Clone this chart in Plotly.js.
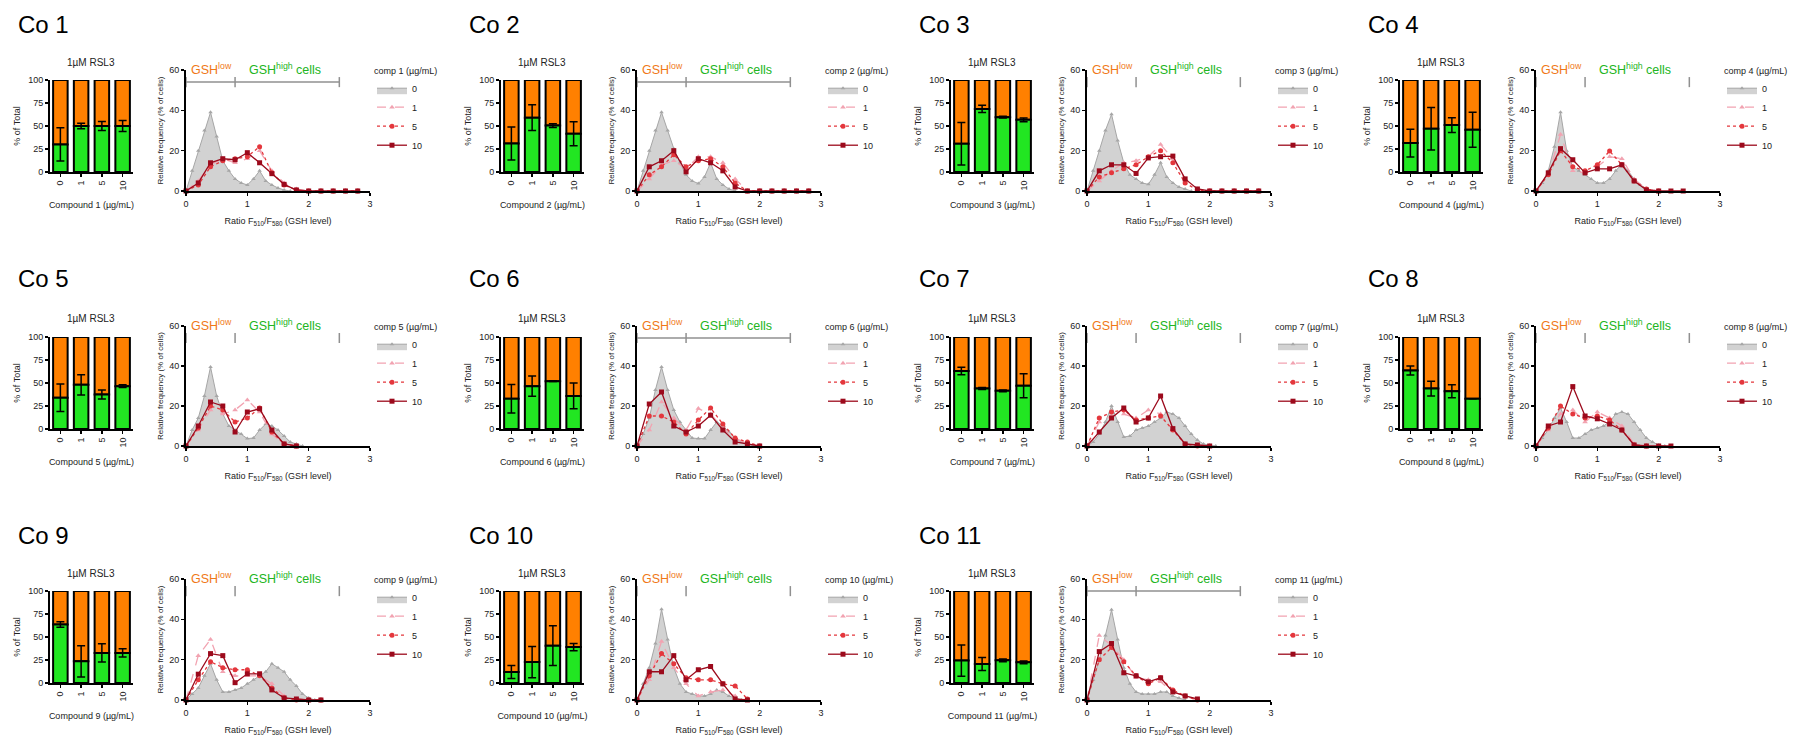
<!DOCTYPE html>
<html><head><meta charset="utf-8">
<script src="https://cdn.plot.ly/plotly-3.0.1.min.js"></script>
<style>html,body{margin:0;padding:0;background:#fff}#chart{width:1797px;height:746px}</style>
</head><body><div id="chart"></div>
<script>
// ---------- DATA ----------
const concLabels = ['0','1','5','10'];
const barTitle = '1µM RSL3';
// % of cells that are GSH-high (green); orange = 100 - green
const greenPct = [
  [30,50,50,50],[31,59,50.5,41.5],[30.7,68.6,59.6,56.7],[31.4,47,51,46],
  [34,48,37.5,46.5],[33,46.5,52,36],[63,44,41.5,47],[63.6,44,41,33],
  [63.6,23.6,32.7,32.7],[12,22.7,40.6,39],[24.4,20.7,24.7,22.5]
];
const greenSd = [
  [18,3,5,6],[18,14,2,13],[23,4,1,2],[15,23,8,19],
  [15,11,5,1.5],[15.5,11,0.5,14],[4,1,1,13],[5,8,7,0],
  [3,17,10,4.5],[7,17,21.5,4],[17,7,1.5,1.5]
];
// ratio bins for control (0 µg/mL) histogram
const ratioFine = [0,0.1,0.2,0.3,0.4,0.5,0.6,0.7,0.8,0.9,1.0,1.1,1.2,1.3,1.4,1.5,1.6,1.7,1.8,1.9,2.0,2.1];
// ratio bins for treated histograms
const ratioCoarse = [0,0.2,0.4,0.6,0.8,1.0,1.2,1.4,1.6,1.8,2.0,2.2,2.4,2.6,2.8];
const freq0 = [
  [0,10,20,30,39,27,15,10,6,4,3,6,10,5,3,1.5,0.5,0],
  [0,10,20,30,39,30,21,14,8,5,3.7,7,14,6,3,1,0],
  [0,10,20,30,38,25,14,8,6,4,3.3,8,14,7,4,2,1,0],
  [0,4,10,22,39,20,12,10,8,6,4,4,6,10,13.5,10,6,3,1,0],
  [0,8,14,25,39.5,25,16,10,8,6,3.7,4,8,11,10,8,5,2,1,0],
  [0,6,14,28,39.5,28,18,12,8,4,3.7,3.7,8,12,10,7,4,2,1,0],
  [0,2,6,12,20,12,4.5,5,8,9,10,12,14,17,16,14,10,6,3,1,0.5,0],
  [0,4,8,14,19,12,4,4,6,8,9,10,12,16,17,16,12,8,4,2,0.5,0],
  [0,3,6,12,18,10,4,4,5,6,8,10,12,14,18,16,14,10,7,3,1,0],
  [0,8,16,28,45,30,16,8,4,3,2,2,3,5,4,2,1,0],
  [0,10,20,32,44.7,30,16,8,4,3,3,3,4,4,2,1,0]
];
const freq1 = [
  [0,5,13,16,14,16,20,10,4,1,0,0,0,0,0],
  [0,6,13,15,11,17,17,14,6,0,0,0,0,0,0],
  [0,5,10,14,15,17,23,16,6,1,0,0,0,0,0],
  [0,8,28,10,9,12,17,16,6,1,0],
  [0,8,18,16,18,23,17,6,1,0],
  [0,8,22,14,8,18.7,16,9,4,1,0],
  [0,12,15,16,14,18,16,8,1,0.5,0],
  [0,8,16,18,12,17,14,10,1,0],
  [0,22,30,14,12,12,12,8,2,0.5,0],
  [0,10,29,16,8,2,4,5,2,0],
  [0,32,27,20,11,10,9,4,2,0]
];
const freq5 = [
  [0,3,12,15,16,17,22,9,3,0.5,0,0,0,0,0],
  [0,8,12,18,12,15,16,12,4,0,0,0,0,0,0],
  [0,7,9,11,13,17,20,14,4,0.5,0,0,0,0,0],
  [0,8,20,12,10,13,19.8,13,5,1,0],
  [0,9,20,18,12,14,19,7,1,0],
  [0,15,15,12,6,13,19,11,4,2,0],
  [0,14,17,18,13,14,15,8,1,0],
  [0,9,20,16,14,15,13,8,0.5,0],
  [0,10,19,16,15,15,12,6,1,0,0,0],
  [0,12,23,18,11,10,10,8,7,0.5],
  [0,20,26,19,12,8,11,5,2,0]
];
const freq10 = [
  [0,4,14,16,15.5,19,14,8.6,3.3,0.5,0,0,0,0,0],
  [0,12,15,20,9.5,16,14,10,2,0,0,0,0,0,0],
  [0,10,13,13,8.7,16.4,17,17.3,6,1,0,0,0,0,0],
  [0,9,21,15.5,9,11,11,13,5,0.5,0,0,0],
  [0,10,22,20,7,17,18.6,8,1,0],
  [0,21,27,10,7,10,15.4,8,2,1,0],
  [0,7,14,19,12,14,25,8.7,1,0.5,0],
  [0,10,12,29.7,15,13.6,11,8,0.5,0,0,0],
  [0,12.8,23,22,8.6,13,13,5,1,0.5,0,0],
  [0,14,14,22,10,15,16.6,8,0.5,0],
  [0,24,28,13.5,12,9,11,4,2,0.5]
];
// gate bracket (ratio limits): low gate 0–0.8, high gate 0.8–2.5
const gateEdges = [0,0.8,2.5];
const gateLevel = 54;
const showGateLine = [true,true,false,false,false,true,false,false,false,false,true];
const gateLowText = 'GSH<sup>low</sup>';
const gateHighText = 'GSH<sup>high</sup> cells';

// ---------- LAYOUT ----------
const W=1797,H=746;
const colX=[0,451,901,1350];
const rowBar=[[80,172],[337,429],[591,683]];
const rowLine=[[70,191],[326,446],[579,700]];
const titleY=[24,278,535];
const px=v=>v/W, py=v=>1-v/H;
const FONT='"Liberation Sans", Arial, sans-serif';
const ORANGE='#ff8000', GREEN='#22e622';
const serStyle = {
  '0':{color:'#a6a6a6',sym:'triangle-up',dash:'solid'},
  '1':{color:'#f2a3b1',sym:'triangle-up',dash:'dash'},
  '5':{color:'#e4373d',sym:'circle',dash:'dot'},
  '10':{color:'#9c0a1c',sym:'square',dash:'solid'}
};

const traces=[], annotations=[], shapes=[];
const layout={width:W,height:H,margin:{l:0,r:0,t:0,b:0},paper_bgcolor:'#fff',plot_bgcolor:'rgba(0,0,0,0)',
  font:{family:FONT,size:9,color:'#222'},barmode:'overlay',bargap:0.3,annotations,shapes,hovermode:false};

function axKey(n){return n===1?'':String(n);}
for(let i=0;i<11;i++){
  const r=Math.floor(i/4), c=i%4, bx=colX[c];
  const nb=2*i+1, nl=2*i+2;
  const xb='x'+axKey(nb), yb='y'+axKey(nb), xl='x'+axKey(nl), yl='y'+axKey(nl);
  const lg='legend'+(i===0?'':(i+1));
  const axCommon={showline:true,linewidth:2,linecolor:'#000',ticks:'outside',ticklen:3,tickwidth:1.5,tickcolor:'#000',showgrid:false,zeroline:false,tickfont:{size:9,color:'#222'},fixedrange:true};
  layout['xaxis'+axKey(nb)]=Object.assign({},axCommon,{domain:[px(bx+50),px(bx+133)],anchor:yb,type:'category',
     categoryorder:'array',categoryarray:concLabels,tickangle:-90,
     title:{text:'Compound '+(i+1)+' (µg/mL)',font:{size:9},standoff:12}});
  layout['yaxis'+axKey(nb)]=Object.assign({},axCommon,{domain:[py(rowBar[r][1]),py(rowBar[r][0])],anchor:xb,range:[0,100],
     tickvals:[0,25,50,75,100],title:{text:'% of Total',font:{size:9},standoff:6}});
  layout['xaxis'+axKey(nl)]=Object.assign({},axCommon,{domain:[px(bx+186),px(bx+370)],anchor:yl,range:[0,3],
     tickvals:[0,1,2,3],title:{text:'Ratio F<sub>510</sub>/F<sub>580</sub> (GSH level)',font:{size:9},standoff:10}});
  layout['yaxis'+axKey(nl)]=Object.assign({},axCommon,{domain:[py(rowLine[r][1]),py(rowLine[r][0])],anchor:xl,range:[0,60],
     tickvals:[0,20,40,60],title:{text:'Relative frequency (% of cells)',font:{size:8},standoff:4}});
  layout[lg]={x:px(bx+372),y:py(rowLine[r][0]-8),xanchor:'left',yanchor:'top',bgcolor:'rgba(0,0,0,0)',
     font:{size:9,color:'#222'},title:{text:'comp '+(i+1)+' (µg/mL)',font:{size:9}},itemwidth:30,tracegroupgap:0};

  // stacked bars (orange behind, green on top), then error bars
  const g=greenPct[i];
  traces.push({type:'bar',x:concLabels,y:g.map(v=>100-v),base:g,xaxis:xb,yaxis:yb,showlegend:false,
     marker:{color:ORANGE,line:{color:'#000',width:2}}});
  traces.push({type:'bar',x:concLabels,y:g,base:concLabels.map(()=>0),xaxis:xb,yaxis:yb,showlegend:false,
     marker:{color:GREEN,line:{color:'#000',width:2}}});
  traces.push({type:'scatter',mode:'markers',x:concLabels,y:g,xaxis:xb,yaxis:yb,showlegend:false,
     marker:{opacity:0,size:1},error_y:{type:'data',array:greenSd[i],color:'#000',thickness:1.5,width:4}});

  // histograms
  const f0=freq0[i];
  traces.push({type:'scatter',mode:'lines+markers',name:'0',legend:lg,x:ratioFine.slice(0,f0.length),y:f0,xaxis:xl,yaxis:yl,
     fill:'tozeroy',fillcolor:'#d2d2d2',line:{color:serStyle['0'].color,width:1},
     marker:{symbol:'triangle-up',size:4,color:serStyle['0'].color},cliponaxis:false});
  [['1',freq1[i]],['5',freq5[i]],['10',freq10[i]]].forEach(([nm,ys])=>{
    const s=serStyle[nm];
    traces.push({type:'scatter',mode:'lines+markers',name:nm,legend:lg,x:ratioCoarse.slice(0,ys.length),y:ys,xaxis:xl,yaxis:yl,
      line:{color:s.color,width:1.3,dash:s.dash},marker:{symbol:s.sym,size:5,color:s.color},cliponaxis:false});
  });

  // gate bracket
  const sc='#909090';
  if(showGateLine[i]) shapes.push({type:'line',xref:xl,yref:yl,x0:gateEdges[0],x1:gateEdges[2],y0:gateLevel,y1:gateLevel,line:{color:sc,width:1.5}});
  gateEdges.forEach(e=>shapes.push({type:'line',xref:xl,yref:yl,x0:e,x1:e,y0:gateLevel-2.5,y1:gateLevel+2.5,line:{color:sc,width:1.5}}));
  const gy=py(rowLine[r][0]-1);
  annotations.push({xref:'paper',yref:'paper',x:px(bx+186+0.42*61.3),y:gy,text:gateLowText,showarrow:false,font:{size:12.5,color:'#f07818'},xanchor:'center',yanchor:'middle'});
  annotations.push({xref:'paper',yref:'paper',x:px(bx+186+1.62*61.3),y:gy,text:gateHighText,showarrow:false,font:{size:12.5,color:'#22b522'},xanchor:'center',yanchor:'middle'});

  // titles
  annotations.push({xref:'paper',yref:'paper',x:px(bx+16),y:py(titleY[r]),text:'Co '+(i+1),showarrow:false,xanchor:'left',yanchor:'middle',font:{size:24,color:'#000'}});
  annotations.push({xref:'paper',yref:'paper',x:px(bx+91),y:py(rowBar[r][0]-18),text:barTitle,showarrow:false,xanchor:'center',yanchor:'middle',font:{size:10,color:'#222'}});
}
Plotly.newPlot('chart',traces,layout,{staticPlot:true,displayModeBar:false});
</script></body></html>
